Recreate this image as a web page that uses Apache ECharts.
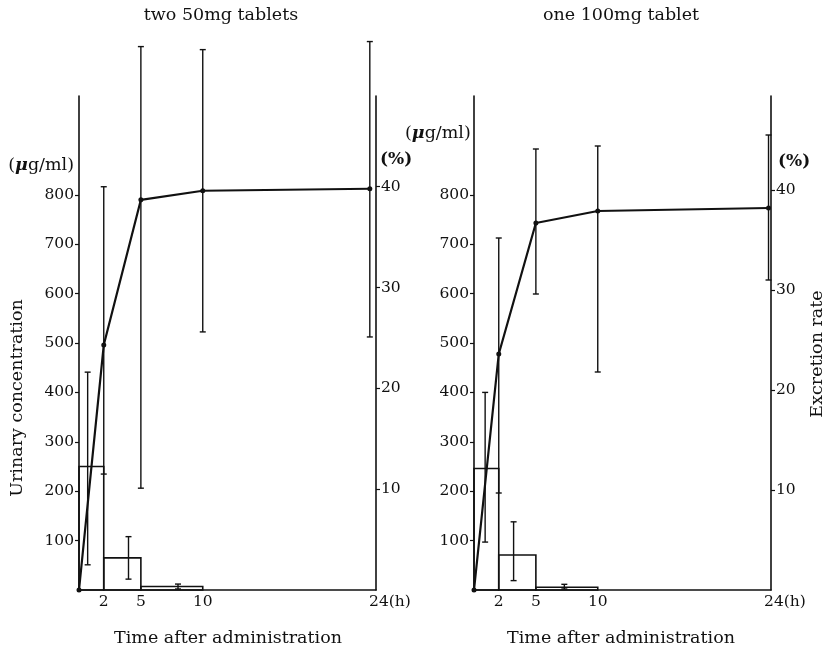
<!DOCTYPE html>
<html>
<head>
<meta charset="utf-8">
<script src="https://cdn.jsdelivr.net/npm/echarts@6/dist/echarts.min.js"></script>
<style>html,body{margin:0;padding:0;background:#fff}#c{width:828px;height:650px}</style>
</head>
<body>
<div id="c"></div>
<script>
// ---- data ----
const timeTicks = [2, 5, 10, 24];
const concTicks = [100, 200, 300, 400, 500, 600, 700, 800];
const rateTicks = [10, 20, 30, 40];

// Panel A: two 50mg tablets
const aBarStart = [0, 2, 5];
const aBarEnd = [2, 5, 10];
const aConc = [250, 65, 7];
const aConcErrTime = [0.7, 4.0, 8.0];
const aConcLow = [51, 22, 2];
const aConcHigh = [441, 108, 12];
const aRateTime = [0, 2, 5, 10, 23.5];
const aRate = [0, 24.3, 38.7, 39.6, 39.8];
const aRateLow = [null, 11.5, 10.1, 25.6, 25.1];
const aRateHigh = [null, 40.0, 53.9, 53.6, 54.4];

// Panel B: one 100mg tablet
const bBarStart = [0, 2, 5];
const bBarEnd = [2, 5, 10];
const bConc = [246, 71, 5.5];
const bConcErrTime = [0.9, 3.2, 7.3];
const bConcLow = [97, 19, 2];
const bConcHigh = [400, 138, 11.5];
const bRateTime = [0, 2, 5, 10, 23.8];
const bRate = [0, 23.6, 36.7, 37.9, 38.2];
const bRateLow = [null, 9.7, 29.6, 21.8, 31.0];
const bRateHigh = [null, 35.2, 44.1, 44.4, 45.5];

// ---- chart ----
const FONT = '"DejaVu Serif", serif';
const INK = '#111';
const NAME_SIZE = 17.5;
const chart = echarts.init(document.getElementById('c'), null, {renderer: 'canvas'});

function barItem(params, api) {
  const p0 = api.coord([api.value(0), api.value(2)]);
  const p1 = api.coord([api.value(1), 0]);
  return {type: 'rect', shape: {x: p0[0], y: p0[1], width: p1[0] - p0[0], height: p1[1] - p0[1]},
    style: {fill: 'none', stroke: INK, lineWidth: 1.6}};
}
function errItem(params, api) {
  const t = api.value(0);
  const lo = api.coord([t, api.value(1)]);
  const hi = api.coord([t, api.value(2)]);
  const w = 3;
  const st = {stroke: INK, lineWidth: 1.4};
  return {type: 'group', children: [
    {type: 'line', shape: {x1: lo[0], y1: lo[1], x2: hi[0], y2: hi[1]}, style: st},
    {type: 'line', shape: {x1: lo[0] - w, y1: lo[1], x2: lo[0] + w, y2: lo[1]}, style: st},
    {type: 'line', shape: {x1: hi[0] - w, y1: hi[1], x2: hi[0] + w, y2: hi[1]}, style: st}
  ]};
}
function zip(...arrs) { return arrs[0].map((_, i) => arrs.map(a => a[i])); }
function errData(t, lo, hi) { return zip(t, lo, hi).filter(r => r[1] != null); }

const axisLine = {show: true, lineStyle: {color: INK, width: 1.6}};
const labelStyle = {color: INK, fontFamily: FONT, fontSize: 15.5};

function xAxis(gi) {
  return {type: 'value', gridIndex: gi, min: 0, max: 24,
    axisLine: axisLine, splitLine: {show: false}, axisTick: {show: false},
    axisLabel: Object.assign({customValues: timeTicks, margin: 4,
      formatter: v => v === 24 ? '{s|}24(h)' : String(v),
      rich: {s: {width: 28}}}, labelStyle)};
}
function yLeft(gi) {
  return {type: 'value', gridIndex: gi, min: 0, max: 1000, position: 'left',
    axisLine: axisLine, splitLine: {show: false},
    axisTick: {show: true, customValues: concTicks, length: 4, lineStyle: {color: INK, width: 1.2}},
    axisLabel: Object.assign({customValues: concTicks, margin: 5}, labelStyle)};
}
function yRight(gi, max) {
  return {type: 'value', gridIndex: gi, min: 0, max: max, position: 'right',
    axisLine: axisLine, splitLine: {show: false},
    axisTick: {show: true, customValues: rateTicks, length: 4, lineStyle: {color: INK, width: 1.2}},
    axisLabel: Object.assign({customValues: rateTicks, margin: 5}, labelStyle)};
}

function panelSeries(gi, barStart, barEnd, conc, cT, cLo, cHi, rT, rate, rLo, rHi) {
  const yl = gi * 2, yr = gi * 2 + 1;
  return [
    {type: 'custom', xAxisIndex: gi, yAxisIndex: yl, renderItem: barItem,
      encode: {x: [0, 1], y: 2}, data: zip(barStart, barEnd, conc), z: 2, silent: true},
    {type: 'custom', xAxisIndex: gi, yAxisIndex: yl, renderItem: errItem,
      encode: {x: 0, y: [1, 2]}, data: errData(cT, cLo, cHi), z: 3, silent: true},
    {type: 'line', xAxisIndex: gi, yAxisIndex: yr, data: zip(rT, rate),
      symbol: 'circle', symbolSize: 5, showSymbol: true,
      itemStyle: {color: INK}, lineStyle: {color: INK, width: 2.2}, z: 5, silent: true, animation: false},
    {type: 'custom', xAxisIndex: gi, yAxisIndex: yr, renderItem: errItem,
      encode: {x: 0, y: [1, 2]}, data: errData(rT, rLo, rHi), z: 4, silent: true}
  ];
}

function txt(text, x, y, opts) {
  return Object.assign({type: 'text', x: x, y: y, silent: true,
    style: Object.assign({text: text, fill: INK, fontFamily: FONT, fontSize: NAME_SIZE, align: 'center', verticalAlign: 'middle'},
      (opts && opts.style) || {})}, (opts && opts.el) || {});
}
const unitRich = {m: {fontFamily: FONT, fontStyle: 'italic', fontWeight: 'bold', fontSize: NAME_SIZE, fill: INK}};
function unitText(x, y, align) {
  return {type: 'text', x: x, y: y, silent: true,
    style: {text: '({m|μ}g/ml)', rich: unitRich, fill: INK, fontFamily: FONT, fontSize: NAME_SIZE, align: align, verticalAlign: 'middle'}};
}
function pctText(x, y) {
  return {type: 'text', x: x, y: y, silent: true,
    style: {text: '(%)', fill: INK, fontFamily: FONT, fontSize: 17, fontWeight: 'bold', align: 'left', verticalAlign: 'middle'}};
}

chart.setOption({
  animation: false,
  backgroundColor: '#fff',
  grid: [
    {left: 79, top: 96, width: 297, height: 494},
    {left: 474, top: 96, width: 297, height: 494}
  ],
  xAxis: [xAxis(0), xAxis(1)],
  yAxis: [yLeft(0), yRight(0, 49), yLeft(1), yRight(1, 49.4)],
  series: [].concat(
    panelSeries(0, aBarStart, aBarEnd, aConc, aConcErrTime, aConcLow, aConcHigh, aRateTime, aRate, aRateLow, aRateHigh),
    panelSeries(1, bBarStart, bBarEnd, bConc, bConcErrTime, bConcLow, bConcHigh, bRateTime, bRate, bRateLow, bRateHigh)
  ),
  graphic: [
    txt('two 50mg tablets', 221, 15),
    txt('one 100mg tablet', 621, 15),
    txt('Time after administration', 228, 638),
    txt('Time after administration', 621, 638),
    txt('Urinary concentration', 17, 398, {el: {rotation: Math.PI / 2}}),
    txt('Excretion rate', 817, 354, {el: {rotation: Math.PI / 2}}),
    unitText(74, 165, 'right'),
    pctText(380, 160),
    unitText(405, 133, 'left'),
    pctText(778, 162)
  ]
});
</script>
</body>
</html>
